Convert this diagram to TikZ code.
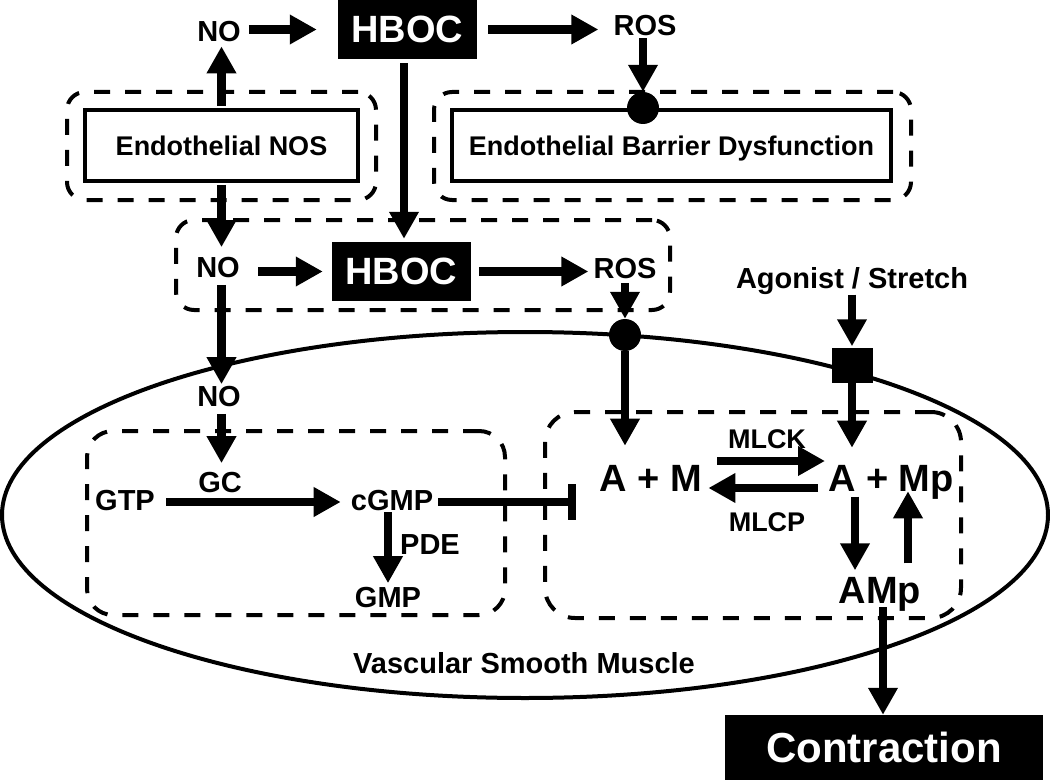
\documentclass[tikz,border=0pt]{standalone}
\usepackage{fontspec}
\setmainfont{Liberation Sans}
\usetikzlibrary{arrows.meta}
\tikzset{
  lab/.style={inner sep=0pt, text depth=0pt, font=\fontsize{29}{30}\selectfont\bfseries},
  biglab/.style={inner sep=0pt, text depth=0pt, font=\fontsize{38}{40}\selectfont\bfseries},
  blackbox/.style={fill=black, text=white, inner sep=0pt, text depth=0pt, font=\fontsize{38}{40}\selectfont\bfseries},
  whitebox/.style={draw, line width=4pt, fill=white, inner sep=0pt, text depth=0pt, font=\fontsize{27}{28}\selectfont\bfseries},
  dashbox/.style={draw, line width=4pt, dash pattern=on 16pt off 15pt, rounded corners=18pt, inner sep=0pt},
  dot/.style={circle, fill=black, minimum size=32pt, inner sep=0pt},
  arr/.style={line width=8.5pt, -{Triangle[length=27pt,width=28pt]}},
  inhib/.style={line width=8.5pt, -{Bar[width=36pt]}},
}
\begin{document}
\begin{tikzpicture}[x=1pt,y=-1pt]
\useasboundingbox (0,0) rectangle (1050,781);
\fill[white] (0,0) rectangle (1050,781);

% cell membrane
\draw[line width=4pt] (525,515) ellipse [x radius=523pt, y radius=183pt];

% dashed compartments
\node[dashbox, minimum width=309pt, minimum height=108pt] (nosdash) at (221.5,146) {};
\node[dashbox, minimum width=477pt, minimum height=108pt] (ebddash) at (672.5,146) {};
\node[dashbox, minimum width=494pt, minimum height=90pt] (middash) at (423,265) {};
\node[dashbox, minimum width=418pt, minimum height=184pt, rounded corners=26pt] (leftdash) at (296,523) {};
\node[dashbox, minimum width=416pt, minimum height=206pt, rounded corners=30pt] (rightdash) at (753,515) {};

% boxes
\node[whitebox, minimum width=273pt, minimum height=71pt] (nos) at (221.5,145.5) {Endothelial NOS};
\node[whitebox, minimum width=439pt, minimum height=71pt] (ebd) at (671.5,145.5) {Endothelial Barrier Dysfunction};
\node[blackbox, minimum width=139pt, minimum height=59pt] (hboc1) at (407.5,29.5) {HBOC};
\node[blackbox, minimum width=139pt, minimum height=59pt] (hboc2) at (401.5,271.5) {HBOC};
\node[blackbox, minimum width=318pt, minimum height=65pt, font=\fontsize{42}{44}\selectfont\bfseries] (contr) at (884,747.5) {Contraction};

% labels
\node[lab] (no1) at (219,31) {NO};
\node[lab] (ros1) at (645,25) {ROS};
\node[lab] (no2) at (218,267) {NO};
\node[lab] (ros2) at (625,268) {ROS};
\node[lab] (no3) at (219,396) {NO};
\node[lab] (gc) at (220,482) {GC};
\node[lab] (gtp) at (125,500) {GTP};
\node[lab] (cgmp) at (392,500) {cGMP};
\node[lab] (pde) at (430,545) {PDE};
\node[lab] (gmp) at (388,597) {GMP};
\node[biglab] (am) at (651,478) {A + M};
\node[biglab] (amp) at (891,478) {A + Mp};
\node[biglab] (ampn) at (880,590) {AMp};
\node[lab, font=\fontsize{27}{28}\selectfont\bfseries] (mlck) at (767,439) {MLCK};
\node[lab, font=\fontsize{27}{28}\selectfont\bfseries] (mlcp) at (767,522) {MLCP};
\node[lab] (agon) at (852,278) {Agonist / Stretch};
\node[lab] (vsm) at (524,663) {Vascular Smooth Muscle};

% receptor symbols
\node[dot] (c1) at (643,108) {};
\node[dot] (c2) at (625,335) {};
\node[fill=black, minimum width=41pt, minimum height=35pt, inner sep=0pt] (sq) at (852,365) {};
\coordinate (inhend) at (576,502);

% connectors
\draw[arr, shorten <=8pt, shorten >=21pt] (hboc1.west -| no1.east) -- (hboc1.west);
\draw[arr, shorten <=11pt, shorten >=15pt] (hboc1.east) -- (hboc1.east -| ros1.west);
\draw[arr, shorten <=3pt] (c1 |- ros1.south) -- (c1.north);
\draw[arr, shorten <=2pt, shorten >=5pt] (nos.north) -- (nos.north |- no1.south);
\draw[arr, shorten <=4pt, shorten >=3pt] ([xshift=-3.5pt]hboc1.south) -- ([xshift=2.5pt]hboc2.north);
\draw[arr, shorten <=2pt, shorten >=9.5pt] (nos.south) -- (nos.south |- no2.north);
\draw[arr, shorten <=18.5pt, shorten >=9pt] (hboc2.west -| no2.east) -- (hboc2.west);
\draw[arr, shorten <=8pt, shorten >=5pt] (hboc2.east) -- (hboc2.east -| ros2.west);
\draw[arr, shorten <=4.5pt] (c2 |- ros2.south) -- (c2.north);
\draw[arr, shorten <=7.5pt, shorten >=1.5pt] (nos.south |- no2.south) -- (nos.south |- no3.north);
\draw[arr, shorten <=7.5pt, shorten >=8.5pt] (nos.south |- no3.south) -- (nos.south |- gc.north);
\draw[arr, shorten <=11pt, shorten >=10pt] (gtp.east |- inhend) -- (cgmp.west |- inhend);
\draw[arr, shorten <=2pt, shorten >=3.5pt] (gmp |- cgmp.south) -- (gmp.north);
\draw[inhib, shorten <=5pt] (cgmp.east |- inhend) -- (inhend);
\draw[arr, shorten >=19pt] (c2.south) -- (c2.south |- am.north);
\draw[arr, shorten <=6pt, shorten >=1pt] (sq |- agon.south) -- (sq.north);
\draw[arr, shorten >=17pt] (sq.south) -- (sq.south |- amp.north);
\draw[arr] ([xshift=15pt,yshift=17pt]am.east) -- ([xshift=-3pt,yshift=17pt]amp.west);
\draw[arr] ([xshift=-10pt,yshift=-10pt]amp.west) -- ([xshift=6pt,yshift=-10pt]am.east);
\draw[arr, shorten <=5.4pt, shorten >=6.4pt] ([xshift=-36pt]amp.south) -- ([xshift=-25pt]ampn.north);
\draw[arr, shorten <=13.4pt] ([xshift=28pt]ampn.north) -- ([xshift=17pt]amp.south);
\draw[arr, shorten <=4pt] ([xshift=3pt]ampn.south) -- ([xshift=-1pt]contr.north);
\end{tikzpicture}
\end{document}
